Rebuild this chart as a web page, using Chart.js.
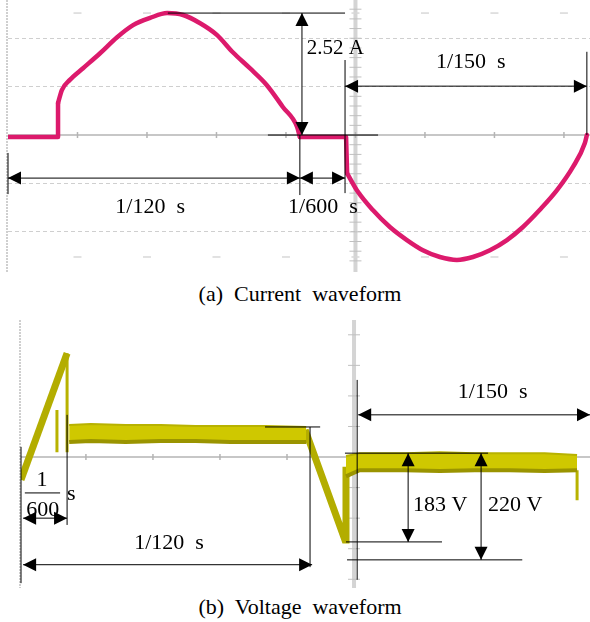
<!DOCTYPE html>
<html>
<head>
<meta charset="utf-8">
<script src="https://cdn.jsdelivr.net/npm/chart.js@4.4.1/dist/chart.umd.min.js"></script>
<style>
  body { margin: 0; background: #fff; width: 590px; height: 622px; position: relative; overflow: hidden; }
  canvas { position: absolute; left: 0; }
  .cap { position: absolute; left: 5px; width: 590px; text-align: center; white-space: pre;
         font: 22px "Liberation Serif", serif; color: #000; }
</style>
</head>
<body>
<canvas id="cur" width="590" height="275" style="top:0"></canvas>
<canvas id="volt" width="590" height="280" style="top:310px"></canvas>
<div class="cap" style="top:281px">(a)  Current  waveform</div>
<div class="cap" style="top:594px">(b)  Voltage  waveform</div>
<script>
// (a) current trace: time in ms, current in A
const curT = [0, 1.44, 1.44, 1.55, 1.78, 2.16, 2.65, 3.14, 3.60, 4.09, 4.58, 5.04, 5.53, 6.01, 6.47, 6.96, 7.45, 7.91, 8.32, 8.40,
              9.73, 9.76, 10.04, 10.50, 10.99, 11.48, 11.94, 12.43, 12.92, 13.38, 13.87, 14.36, 14.82, 15.30, 15.80, 16.26, 16.60, 16.66];
const curA = [-0.04, -0.04, 0.66, 0.93, 1.14, 1.38, 1.69, 2.02, 2.27, 2.42, 2.52, 2.48, 2.31, 2.07, 1.71, 1.38, 1.03, 0.58, 0.17, -0.04,
              -0.04, -0.79, -1.14, -1.55, -1.90, -2.17, -2.38, -2.52, -2.58, -2.52, -2.38, -2.17, -1.90, -1.55, -1.14, -0.66, -0.17, 0];
// index ranges of the trace: straight pieces (flat + jump) and smooth arcs
const curStraight = [[0, 2], [19, 21]];
const curArcs = [[2, 19], [21, 37]];

// (b) voltage trace: time in ms, voltage in V
const rampT = [0, 1.32];
const rampV = [-47, 214];
const spikeT = [1.03, 1.03, 1.2, 1.32, 1.32, 12, 15.93, 15.93];
const spikeV = [97, 10, null, 214, 10, null, -27, -89];
const band1T = [1.38, 2.0, 3.0, 4.0, 5.0, 6.0, 7.0, 8.17];
const band1Hi = [66, 68, 66, 66, 64, 64, 64, 62];
const band1Lo = [31, 33, 31, 33, 33, 31, 31, 31];
const descT = [8.14, 9.28, 9.31, 9.31];
const descV = [56, -171, -171, -20];
const band2T = [9.31, 9.7, 11, 12, 13, 14, 15, 15.93];
const band2Hi = [2, 8, 8, 10, 8, 8, 8, 4];
const band2Lo = [-40, -27, -27, -29, -27, -27, -29, -27];

// annotations (data units): lines, double arrows, labels
const curLines = [[4.6, 2.52, 9.7, 2.52], [7.48, 0, 10.65, 0], [0, -0.37, 0, -1.22],
                  [8.40, 0, 8.40, -1.24], [9.70, 1.55, 9.70, -1.20], [16.66, 1.72, 16.66, 0]];
const curArrows = [[0, -0.89, 8.40, -0.89], [8.40, -0.89, 9.70, -0.89], [9.70, 1.01, 16.66, 1.01], [8.46, 2.52, 8.46, 0]];
const curLabels = [['1/120  s', 4.09, -1.49, 'center'], ['1/600  s', 8.06, -1.49, 'left'],
                   ['2.52 A', 8.6, 1.79, 'left'], ['1/150  s', 13.32, 1.51, 'center']];

const voltLines = [[0, 21, 0, -260], [1.32, 87, 1.32, -140], [8.28, 62, 8.28, -227], [6.99, 62, 8.57, 62],
                   [9.63, 159, 9.63, -253], [9.28, 8, 13.38, 8], [9.31, -175, 12.06, -175], [9.34, -212, 14.36, -212],
                   [0.11, -74, 1.12, -74]];
const voltArrows = [[0.06, -126, 1.32, -126], [0.06, -222, 8.34, -222], [9.66, 87, 16.3, 87],
                    [11.09, 8, 11.09, -175], [13.18, 8, 13.18, -212]];
const voltLabels = [['1/120  s', 4.24, -177, 'center'], ['1/150  s', 13.51, 134, 'center'],
                    ['183 V', 11.23, -99, 'left'], ['220 V', 13.38, -99, 'left'],
                    ['1', 0.60, -47, 'center'], ['600', 0.62, -109, 'center'], ['s', 1.32, -76, 'left']];

const pts = (xs, ys) => xs.map((x, i) => ({ x, y: ys[i] }));
const part = ([i0, i1]) => pts(curT.slice(i0, i1 + 1), curA.slice(i0, i1 + 1));

function arrowHead(ctx, x0, y0, x1, y1) {
  const ang = Math.atan2(y1 - y0, x1 - x0), len = 13, hw = 6.5;
  ctx.beginPath();
  ctx.moveTo(x1, y1);
  ctx.lineTo(x1 - len * Math.cos(ang) + hw * Math.sin(ang), y1 - len * Math.sin(ang) - hw * Math.cos(ang));
  ctx.lineTo(x1 - len * Math.cos(ang) - hw * Math.sin(ang), y1 - len * Math.sin(ang) + hw * Math.cos(ang));
  ctx.closePath();
  ctx.fill();
}

// oscilloscope axes + dimension marks, all placed through the chart scales
function scope(cfg) {
  return {
    id: 'scope',
    beforeDatasetsDraw(chart) {
      const { ctx, chartArea: a, scales: { x, y } } = chart;
      ctx.save();
      const ex = x.getPixelForValue(0) - 1;
      ctx.strokeStyle = '#cfcfcf'; ctx.lineWidth = 2; ctx.setLineDash([2, 1]);
      ctx.beginPath(); ctx.moveTo(ex, a.top + cfg.edgeTop); ctx.lineTo(ex, a.bottom); ctx.stroke();
      ctx.setLineDash([]);

      const cx = x.getPixelForValue(cfg.centerT);
      ctx.fillStyle = 'rgba(170,170,170,0.5)';
      ctx.fillRect(cx - 2, a.top + cfg.edgeTop, 4, a.bottom - a.top - cfg.edgeTop);
      ctx.strokeStyle = '#c0c0c0'; ctx.lineWidth = 1;
      for (let v = cfg.yTick; v < y.max; v += cfg.yTick) {
        for (const s of [1, -1]) {
          if (s * v < y.min) continue;
          const py = y.getPixelForValue(s * v);
          if (py < a.top + cfg.edgeTop) continue;
          ctx.beginPath(); ctx.moveTo(cx - 6, py); ctx.lineTo(cx + 6, py); ctx.stroke();
        }
      }

      const zy = y.getPixelForValue(0);
      ctx.strokeStyle = '#b4b4b4'; ctx.lineWidth = 1.5;
      ctx.beginPath(); ctx.moveTo(a.left, zy); ctx.lineTo(a.right, zy); ctx.stroke();
      for (let k = -10; k <= 10; k++) {
        const t = cfg.centerT + k * cfg.xTick;
        if (t <= x.min || t >= x.max) continue;
        const px = x.getPixelForValue(t);
        ctx.beginPath(); ctx.moveTo(px, zy - 3); ctx.lineTo(px, zy + 3); ctx.stroke();
        if (cfg.edgeMarks) {
          for (const v of cfg.edgeMarks) {
            const py = y.getPixelForValue(v);
            ctx.strokeStyle = '#d8d8d8';
            ctx.beginPath(); ctx.moveTo(px - 4, py); ctx.lineTo(px + 4, py); ctx.stroke();
            ctx.strokeStyle = '#b4b4b4';
          }
        }
      }
      ctx.restore();
    },
    afterDatasetsDraw(chart) {
      const { ctx, scales: { x, y } } = chart;
      const P = (t, v) => [x.getPixelForValue(t), y.getPixelForValue(v)];
      ctx.save();
      ctx.strokeStyle = '#000'; ctx.fillStyle = '#000'; ctx.lineWidth = 1;
      for (const [t0, v0, t1, v1] of cfg.lines) {
        const [x0, y0] = P(t0, v0), [x1, y1] = P(t1, v1);
        ctx.beginPath(); ctx.moveTo(x0, y0); ctx.lineTo(x1, y1); ctx.stroke();
      }
      for (const [t0, v0, t1, v1] of cfg.arrows) {
        const [x0, y0] = P(t0, v0), [x1, y1] = P(t1, v1);
        ctx.beginPath(); ctx.moveTo(x0, y0); ctx.lineTo(x1, y1); ctx.stroke();
        arrowHead(ctx, x0, y0, x1, y1);
        arrowHead(ctx, x1, y1, x0, y0);
      }
      ctx.textBaseline = 'middle';
      for (const [txt, t, v, align] of cfg.labels) {
        const [px, py] = P(t, v);
        ctx.font = (txt === '2.52 A' ? '21px' : '22px') + ' "Liberation Serif", serif';
        ctx.textAlign = align;
        ctx.fillText(txt, px, py);
      }
      ctx.restore();
    }
  };
}

const lineDefaults = { pointRadius: 0, tension: 0, fill: false };
const pink = { borderColor: '#dc1a6c', borderWidth: 4.5, borderCapStyle: 'round', borderJoinStyle: 'round' };

new Chart(document.getElementById('cur'), {
  type: 'line',
  data: {
    datasets: [
      ...curStraight.map(r => ({ ...lineDefaults, ...pink, data: part(r) })),
      ...curArcs.map(r => ({ ...lineDefaults, ...pink, cubicInterpolationMode: 'monotone', data: part(r) }))
    ]
  },
  options: {
    responsive: false, animation: false, events: [],
    layout: { padding: { left: 8, right: 0, top: 0, bottom: 3 } },
    plugins: { legend: { display: false }, tooltip: { enabled: false } },
    scales: {
      x: { type: 'linear', min: 0, max: 16.75, display: false },
      y: {
        min: -2.83, max: 2.79,
        ticks: { display: false, stepSize: 1, includeBounds: false },
        border: { display: false, dash: [4, 3] },
        grid: { drawTicks: false, color: c => c.tick.value === 0 ? 'rgba(0,0,0,0)' : '#cfcfcf', lineWidth: 1 }
      }
    }
  },
  plugins: [scope({ centerT: 10.0, xTick: 2, yTick: 0.2, edgeTop: 0, edgeMarks: [2.52, -2.52],
                    lines: curLines, arrows: curArrows, labels: curLabels })]
});

new Chart(document.getElementById('volt'), {
  type: 'line',
  data: {
    datasets: [
      { ...lineDefaults, data: pts(band1T, band1Hi), borderColor: '#b8b200', borderWidth: 2 },
      { ...lineDefaults, data: pts(band1T, band1Lo), borderColor: '#9a9400', borderWidth: 4, fill: '-1', backgroundColor: '#cfc800' },
      { ...lineDefaults, data: pts(band2T, band2Hi), borderColor: '#b8b200', borderWidth: 2 },
      { ...lineDefaults, data: pts(band2T, band2Lo), borderColor: '#9a9400', borderWidth: 4, fill: '-1', backgroundColor: '#cfc800' },
      { ...lineDefaults, data: pts(rampT, rampV), borderColor: '#b3ad00', borderWidth: 7 },
      { ...lineDefaults, data: pts(descT, descV), borderColor: '#b3ad00', borderWidth: 7 },
      { ...lineDefaults, data: pts(spikeT, spikeV), borderColor: '#b8b200', borderWidth: 3 }
    ]
  },
  options: {
    responsive: false, animation: false, events: [],
    layout: { padding: { left: 21, right: 0, top: 2, bottom: 2 } },
    plugins: { legend: { display: false }, tooltip: { enabled: false } },
    scales: {
      x: { type: 'linear', min: 0, max: 16.3, display: false },
      y: { min: -270, max: 299, display: false }
    }
  },
  plugins: [scope({ centerT: 9.54, xTick: 1.92, yTick: 63, edgeTop: 8,
                    lines: voltLines, arrows: voltArrows, labels: voltLabels })]
});
</script>
</body>
</html>
